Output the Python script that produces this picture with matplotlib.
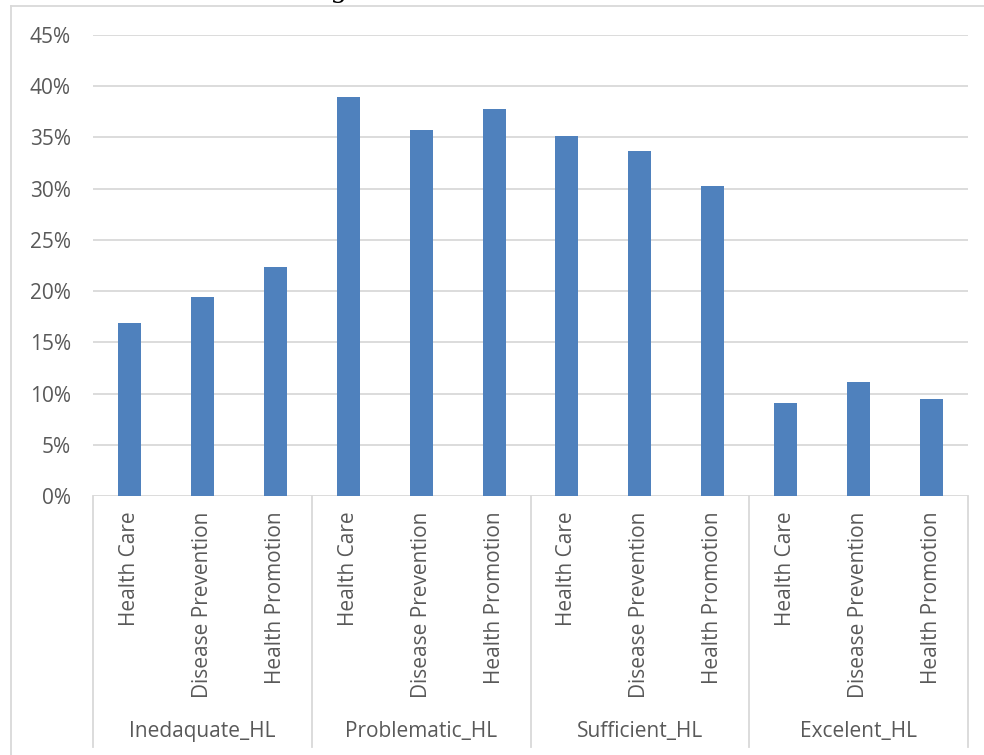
import matplotlib
matplotlib.use("Agg")
from matplotlib import pyplot as plt
from matplotlib.lines import Line2D
import numpy as np

# data
groups = ["Inedaquate_HL", "Problematic_HL", "Sufficient_HL", "Excelent_HL"]
domains = ["Health Care", "Disease Prevention", "Health Promotion"]
inadequate = [16.9, 19.4, 22.4]
problematic = [38.9, 35.7, 37.8]
sufficient = [35.1, 33.7, 30.3]
excellent = [9.1, 11.1, 9.5]
yticks = [0, 5, 10, 15, 20, 25, 30, 35, 40, 45]

BAR = "#4F81BD"
GRID = "#D9D9D9"
TXT = "#595959"
FONT = ["Open Sans", "DejaVu Sans"]
FS = 15

plt.rcParams["font.family"] = FONT

values = np.array(inadequate + problematic + sufficient + excellent) / 100
labels = domains * len(groups)
x = np.arange(len(values))

fig = plt.figure(figsize=(9.84, 7.55), dpi=100, facecolor="w")
ax = fig.add_axes([93 / 984, 1 - 496 / 755, 875 / 984, 461 / 755])

ax.bar(x, values, width=0.315, color=BAR, zorder=3)
ax.set_xlim(-0.5, len(values) - 0.5)
ax.set_ylim(0, 0.45)
ax.set_yticks([t / 100 for t in yticks])
ax.set_yticklabels(["%d%%" % t for t in yticks])
ax.yaxis.grid(True, color=GRID, linewidth=1.3, zorder=0)
ax.tick_params(axis="y", length=0, pad=16, labelsize=FS, labelcolor=TXT)

ax.set_xticks(x)
ax.set_xticklabels(labels, rotation=90, va="top", ha="center")
ax.tick_params(axis="x", length=0, pad=11, labelsize=FS, labelcolor=TXT)

for s in ax.spines.values():
    s.set_visible(False)

# multi-level category axis boxes
trans = ax.get_xaxis_transform()
bottom = -251 / 461
for k in range(len(groups) + 1):
    xs = k * 3 - 0.5
    ax.add_line(Line2D([xs, xs], [0, bottom], transform=trans, color=GRID,
                       linewidth=1.3, clip_on=False))
for k, g in enumerate(groups):
    ax.text(k * 3 + 1, -235 / 461, g, transform=trans, ha="center", va="center",
            fontsize=FS, color=TXT)

# outer chart border and the cut-off title above it
fig.add_artist(Line2D([11 / 984, 11 / 984], [0, 1 - 6 / 755], color=GRID, linewidth=1.3))
fig.add_artist(Line2D([11 / 984, 1], [1 - 6 / 755, 1 - 6 / 755], color=GRID, linewidth=1.3))
fig.text(333 / 984, 1 + 4 / 755, "g", fontsize=22, style="italic",
         family=["Liberation Serif"], color="black", va="baseline", ha="left")

fig.savefig("out.png", dpi=100)
